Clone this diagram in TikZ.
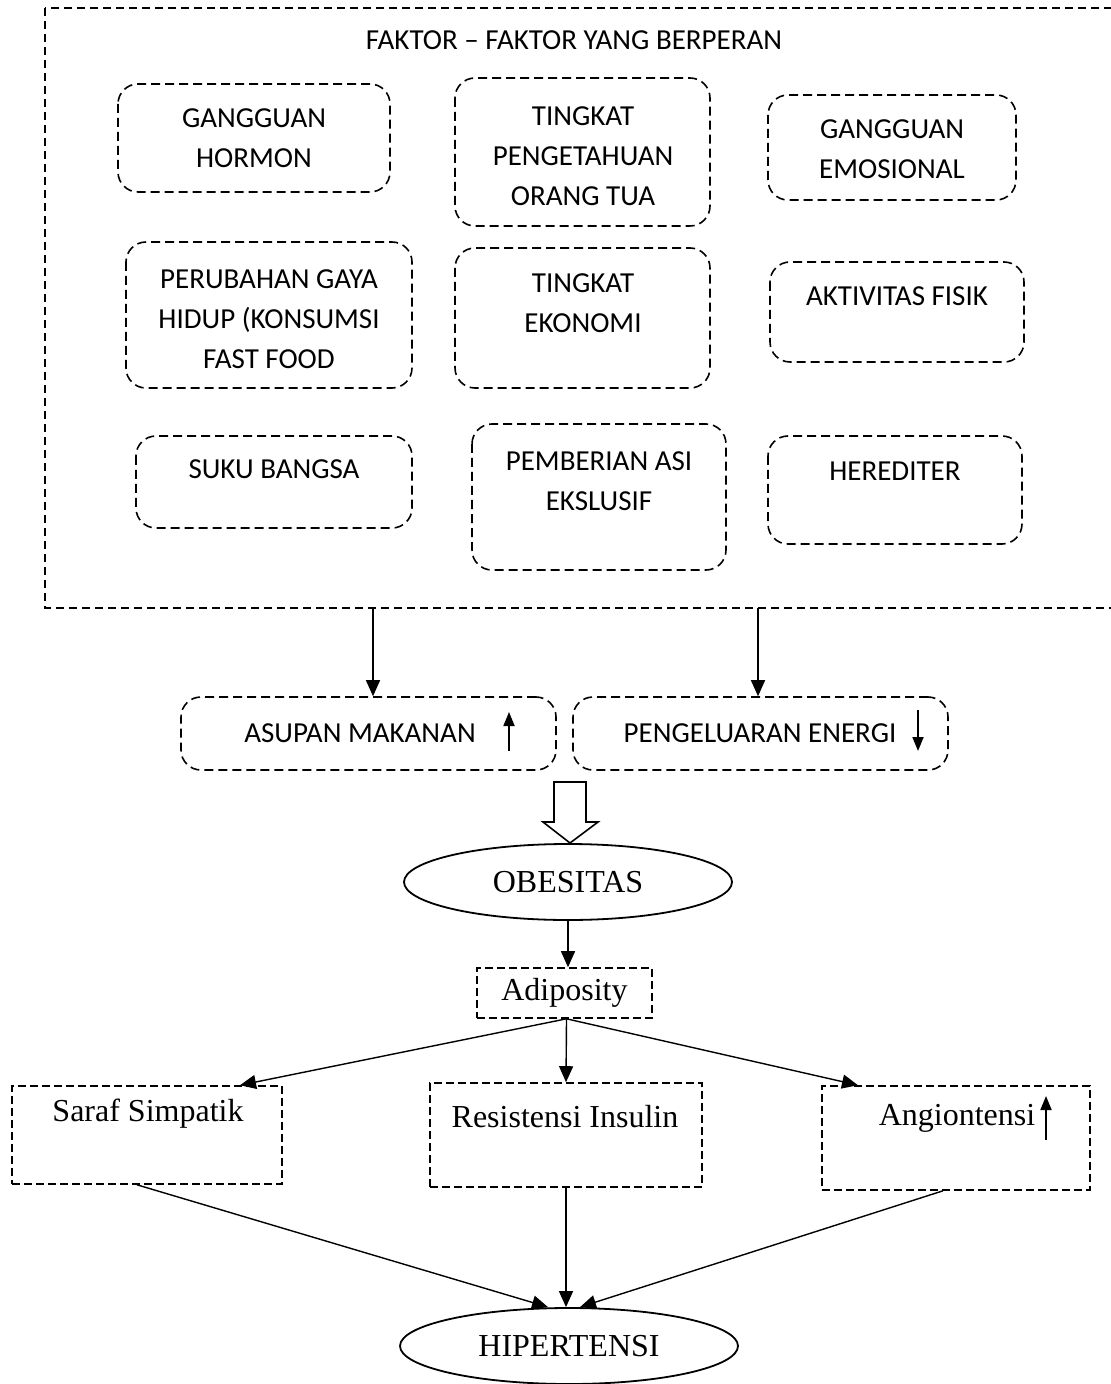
\documentclass[tikz,border=0pt]{standalone}
\usepackage{fontspec}
\setmainfont{Liberation Serif}
\newfontfamily\calibri{Carlito}
\usetikzlibrary{shapes.geometric,arrows.meta,calc}

\tikzset{
	faktor/.style={draw,line width=.8pt,dash pattern=on 4.5pt off 2.5pt,rounded corners=10pt},
	outerbox/.style={draw,line width=.8pt,dash pattern=on 4pt off 2.5pt},
	ftext/.style={font=\calibri\fontsize{14.5}{20}\selectfont,align=center,inner sep=0pt},
	stext/.style={font=\fontsize{16}{19}\selectfont,inner sep=0pt},
	sbox/.style={draw,line width=.8pt,dash pattern=on 4pt off 2pt,inner sep=0pt},
	oval/.style={draw,ellipse,line width=.9pt,minimum width=164pt,minimum height=38pt,font=\fontsize{16}{19}\selectfont},
	arr/.style={line width=.7pt,-{Triangle[length=8pt,width=7pt]}},
	small arr/.style={line width=.9pt,-{Triangle[length=7pt,width=5.5pt]}}
}

\begin{document}
\begin{tikzpicture}[x=.5pt,y=-.5pt]
		\useasboundingbox (0,0) rectangle (1110,1384);
		% outer frame
			\draw[outerbox] (45,8) rectangle (1116,608);
			\node[ftext] (judul) at (574,40) {FAKTOR – FAKTOR YANG BERPERAN};
		% factor boxes
			\foreach \nm/\xa/\ya/\xb/\yb/\tx/\ty/\txt in {
				hormon/118/84/390/192/254/138/{GANGGUAN\\HORMON},
				pengetahuan/455/78/710/226/583/156/{TINGKAT\\PENGETAHUAN\\ORANG TUA},
				emosional/768/95/1016/200/892/149/{GANGGUAN\\EMOSIONAL},
				gayahidup/126/242/412/388/269/319/{PERUBAHAN GAYA\\HIDUP (KONSUMSI\\FAST FOOD},
				ekonomi/455/248/710/388/583/303/{TINGKAT\\EKONOMI},
				fisik/770/262/1024/362/897/296/{AKTIVITAS FISIK},
				suku/136/436/412/528/274/469/{SUKU BANGSA},
				asi/472/424/726/570/599/481/{PEMBERIAN ASI\\EKSLUSIF},
				herediter/768/436/1022/544/895/471/{HEREDITER}}{
				\draw[faktor] (\xa,\ya) rectangle (\xb,\yb);
				\node[ftext] (\nm) at (\tx,\ty) {\txt};
				}
			\coordinate (f1) at (373,608);
			\coordinate (f2) at (758,608);
		% intake and expenditure
			\node[faktor,minimum width=187.5pt,minimum height=36.5pt] (asupan) at (368.5,733.5) {};
			\node[faktor,minimum width=187.5pt,minimum height=36.5pt] (energi) at (760.5,733.5) {};
			\node[ftext] (asupan-t) at (360,733) {ASUPAN MAKANAN};
			\node[ftext] (energi-t) at (760,733) {PENGELUARAN ENERGI};
			\draw[small arr] (509,751) -- (509,712);
			\draw[small arr] (918,710) -- (918,751);
			\draw[arr] (f1) -- (f1 |- asupan.north);
			\draw[arr] (f2) -- (f2 |- energi.north);
		% block arrow
			\draw[line width=.8pt,fill=white] (554,782) -- (586,782) -- (586,822) -- (598,822)
				-- (570,843) -- (543,822) -- (554,822) -- cycle;
		% obesity and below
			\node[oval] (obesitas) at (568,882) {OBESITAS};
			\node[sbox,minimum width=87.5pt,minimum height=25pt,stext] (adiposity) at (564.5,993) {Adiposity};
			\node[sbox,minimum width=135pt,minimum height=49pt] (saraf) at (147,1135) {};
			\node[sbox,minimum width=136pt,minimum height=52pt] (resistensi) at (566,1135) {};
			\node[sbox,minimum width=134pt,minimum height=52pt] (angio) at (956,1138) {};
			\node[stext] (saraf-t) at (148,1114) {Saraf Simpatik};
			\node[stext] (resistensi-t) at (565,1117) {Resistensi Insulin};
			\node[stext] (angio-t) at (957,1118) {Angiontensi};
			\draw[small arr] (1046,1140) -- (1046,1096);
			\node[oval,minimum width=169pt] (hipertensi) at (569,1346) {HIPERTENSI};
			\draw[arr] (obesitas.south) -- (obesitas.south |- adiposity.north);
			\draw[arr] ([xshift=1pt]adiposity.south) -- ([xshift=46.5pt]saraf.north);
			\draw[arr] ([xshift=1pt]adiposity.south) -- (resistensi.north);
			\draw[arr] ([xshift=1pt]adiposity.south) -- ([xshift=-49pt]angio.north);
			\draw[arr] ([xshift=-5pt]saraf.south) -- ([xshift=-10.5pt]hipertensi.north);
			\draw[arr] (resistensi.south) -- (resistensi.south |- hipertensi.north);
			\draw[arr] ([xshift=-6.5pt]angio.south) -- ([xshift=5.5pt]hipertensi.north);
	\end{tikzpicture}
\end{document}
